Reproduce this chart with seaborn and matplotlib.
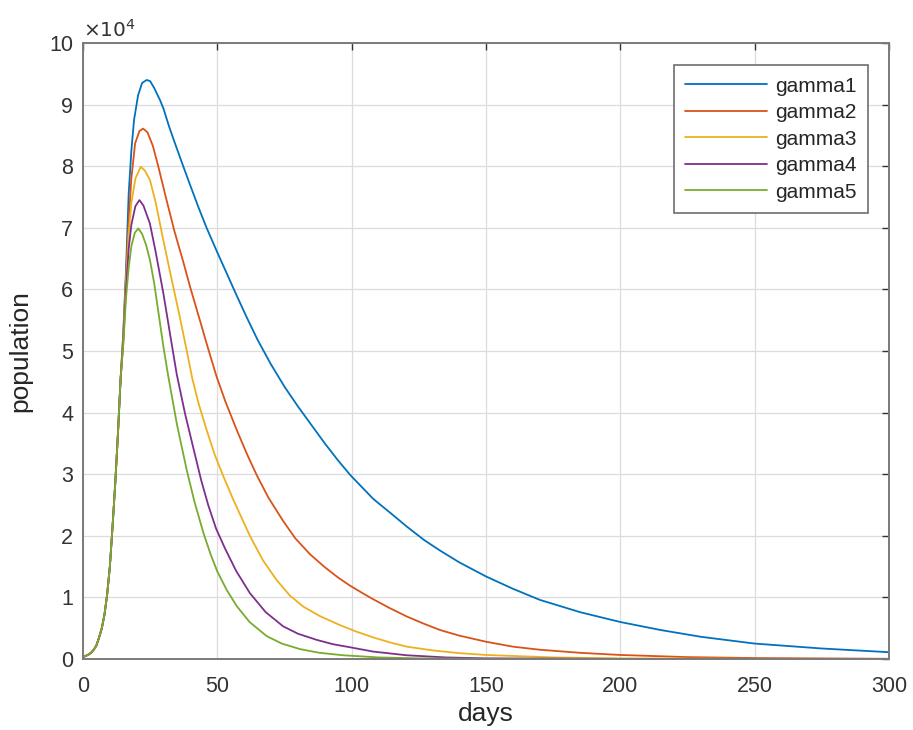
import pandas as pd
import matplotlib
matplotlib.use('Agg')
import matplotlib.pyplot as plt
import seaborn as sns

# values in units of 10^4 people
# shared early growth (all five curves overlap here)
rise_days = [0, 1, 2, 3, 4, 5, 6, 7, 8, 9, 10, 11, 12, 13, 14]
rise_vals = [0.03, 0.05, 0.07, 0.10, 0.15, 0.22, 0.35, 0.50, 0.72, 1.05, 1.50, 2.15, 2.85, 3.65, 4.55]

gamma1_days = [15, 16, 17, 18, 19, 20.5, 22, 23.7, 25, 26.5, 28.7, 30, 32, 34, 37.3, 40, 43, 46,
               50, 53.5, 57, 60.9, 65, 70, 75, 80, 84.5, 90, 95, 99.4, 108, 115, 120.5, 127,
               132.9, 140, 150, 160, 170, 185, 200, 215, 230, 250, 275, 300]
gamma1_vals = [5.30, 6.30, 7.55, 8.25, 8.75, 9.15, 9.35, 9.40, 9.38, 9.27, 9.07, 8.93, 8.65, 8.40,
               8.00, 7.68, 7.33, 7.00, 6.60, 6.26, 5.92, 5.55, 5.18, 4.78, 4.42, 4.10, 3.83, 3.50,
               3.22, 2.99, 2.60, 2.35, 2.15, 1.93, 1.76, 1.57, 1.34, 1.14, 0.96, 0.76, 0.60, 0.47,
               0.36, 0.25, 0.17, 0.11]

gamma2_days = [15, 16, 17, 18, 19.4, 21, 22.4, 24, 26, 28, 31.1, 34, 37.3, 40, 43.5, 46.5, 49.75,
               53, 57.2, 61, 64.6, 69, 74.5, 79, 84.5, 90, 95, 99.4, 104, 108, 114, 120.5, 127,
               132.9, 140, 150, 160, 170, 185, 200, 225, 250, 300]
gamma2_vals = [5.25, 6.20, 7.10, 7.80, 8.37, 8.57, 8.61, 8.55, 8.33, 8.00, 7.45, 6.95, 6.45, 6.02,
               5.50, 5.05, 4.58, 4.18, 3.72, 3.33, 2.99, 2.62, 2.24, 1.96, 1.70, 1.49, 1.32, 1.19,
               1.07, 0.97, 0.83, 0.69, 0.57, 0.47, 0.38, 0.28, 0.20, 0.15, 0.10, 0.065, 0.03,
               0.015, 0.003]

gamma3_days = [15, 16, 17, 18, 19.5, 21.5, 23, 24.9, 27, 29.8, 33, 36, 38.5, 40.7, 43, 46, 49,
               52.2, 56, 62.1, 67, 72.1, 77, 82, 88, 95.6, 102, 108, 115, 120.5, 130, 140, 150,
               175, 200, 250, 300]
gamma3_vals = [5.20, 6.10, 6.90, 7.40, 7.80, 7.99, 7.93, 7.78, 7.42, 6.82, 6.16, 5.56, 5.03, 4.55,
               4.15, 3.72, 3.32, 2.97, 2.58, 2.00, 1.60, 1.28, 1.03, 0.85, 0.70, 0.55, 0.44, 0.35,
               0.26, 0.20, 0.14, 0.095, 0.065, 0.025, 0.01, 0.002, 0.0]

gamma4_days = [15, 16, 17, 18, 19.5, 21, 22.5, 24.9, 27, 29.9, 32.5, 34.9, 38, 41.1, 44, 46.6,
               49.5, 52.8, 57, 62.1, 68, 74.5, 80, 87, 93, 99.4, 108, 120.5, 135, 150, 200, 300]
gamma4_vals = [5.15, 6.00, 6.65, 7.05, 7.35, 7.45, 7.36, 7.07, 6.62, 5.94, 5.25, 4.62, 3.98, 3.42,
               2.90, 2.50, 2.12, 1.80, 1.43, 1.07, 0.76, 0.53, 0.41, 0.31, 0.24, 0.19, 0.12, 0.06,
               0.025, 0.01, 0.001, 0.0]

gamma5_days = [15, 16, 17, 18, 19.3, 20.6, 22, 23.5, 24.9, 26.5, 28.3, 30, 31.7, 35, 38.6, 41.5,
               44.8, 47.5, 50, 53.5, 57.2, 62, 68.4, 74, 80.8, 88, 96.9, 110, 125, 150, 200, 300]
gamma5_vals = [5.10, 5.85, 6.35, 6.70, 6.92, 6.99, 6.90, 6.72, 6.48, 6.10, 5.56, 5.05, 4.60, 3.80,
               3.07, 2.55, 2.05, 1.70, 1.42, 1.12, 0.86, 0.60, 0.37, 0.25, 0.16, 0.10, 0.06, 0.025,
               0.01, 0.003, 0.0, 0.0]

series_names = ['gamma1', 'gamma2', 'gamma3', 'gamma4', 'gamma5']
series_days = [gamma1_days, gamma2_days, gamma3_days, gamma4_days, gamma5_days]
series_vals = [gamma1_vals, gamma2_vals, gamma3_vals, gamma4_vals, gamma5_vals]
colors = ['#0072BD', '#D95319', '#EDB120', '#7E2F8E', '#77AC30']

x_ticks = [0, 50, 100, 150, 200, 250, 300]
y_ticks = [0, 1, 2, 3, 4, 5, 6, 7, 8, 9, 10]

rows = []
for name, days, vals in zip(series_names, series_days, series_vals):
    for d, v in zip(rise_days + days, rise_vals + vals):
        rows.append({'days': d, 'population': v, 'series': name})
df = pd.DataFrame(rows)

sns.set_style('white')
plt.rcParams['font.family'] = ['Liberation Sans', 'DejaVu Sans']

fig = plt.figure(figsize=(9.13, 7.3), dpi=100)
ax = fig.add_axes([0.0909, 0.0973, 0.8828, 0.8438])

sns.lineplot(data=df, x='days', y='population', hue='series', palette=colors,
             estimator=None, sort=False, linewidth=1.3, ax=ax)

ax.set_xlim(0, 300)
ax.set_ylim(0, 10)
ax.set_xticks(x_ticks)
ax.set_yticks(y_ticks)
ax.grid(True, color='#dcdcdc', linewidth=0.9)
ax.set_axisbelow(True)
for sp in ax.spines.values():
    sp.set_color('#7a7a7a')
    sp.set_linewidth(1.4)
ax.tick_params(direction='in', length=5, width=1, colors='#333333', labelsize=15.5,
               top=True, right=True, labeltop=False, labelright=False)
ax.tick_params(axis='x', pad=12)
ax.tick_params(axis='y', pad=7)
ax.set_xlabel('days', fontsize=19, color='#262626', labelpad=4)
ax.set_ylabel('population', fontsize=19, color='#262626', labelpad=12)
ax.text(0.0, 1.004, r'$\times10^4$', transform=ax.transAxes, fontsize=14.5,
        color='#333333', ha='left', va='bottom')

leg = ax.legend(loc='upper right', bbox_to_anchor=(0.974, 0.964), fontsize=15,
                frameon=True, fancybox=False, framealpha=1, edgecolor='#6e6e6e',
                handlelength=3.9, handletextpad=0.4, labelspacing=0.36, borderpad=0.55,
                borderaxespad=0)
leg.get_frame().set_linewidth(1.2)

fig.savefig('out.png', dpi=100)
